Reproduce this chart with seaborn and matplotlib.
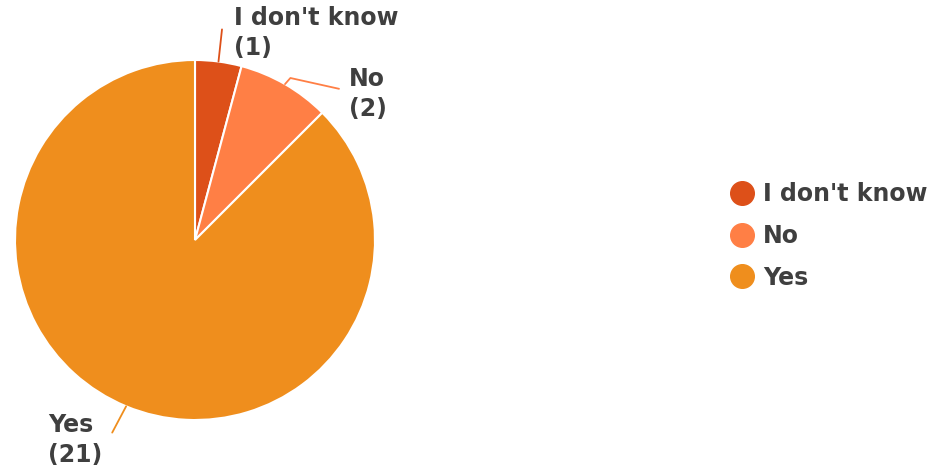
import numpy as np
import matplotlib
matplotlib.use("Agg")
import matplotlib.pyplot as plt
from matplotlib.lines import Line2D
import seaborn as sns

# survey answers
answers = ["I don't know", "No", "Yes"]
counts = [1, 2, 21]
colors = ["#DD5019", "#FF7F45", "#EF8E1D"]

sns.set_theme(style="white")
plt.rcParams["font.family"] = ["DejaVu Sans"]
TXT = "#3f3f3f"
FS = 17

fig = plt.figure(figsize=(9.4, 4.69), dpi=100)
ax = fig.add_axes([15 / 940, 49 / 469, 360 / 940, 360 / 469])

wedges, _ = ax.pie(
    counts, colors=colors, startangle=90, counterclock=False,
    wedgeprops=dict(edgecolor="white", linewidth=1.5),
)
ax.set_xlim(-1, 1)
ax.set_ylim(-1, 1)
ax.set_aspect("equal")

# label placement: (line points, text anchor, ha) in axis units, per slice
label_pos = {
    "I don't know": ([(0.15, 1.17)], (0.215, 1.15), "left"),
    "No": ([(0.53, 0.90), (0.80, 0.84)], (0.855, 0.81), "left"),
    "Yes": ([(-0.46, -1.07)], (-0.515, -1.11), "right"),
}
for w, name, n, c in zip(wedges, answers, counts, colors):
    ang = np.deg2rad((w.theta1 + w.theta2) / 2)
    pts = [(np.cos(ang), np.sin(ang))] + label_pos[name][0]
    (tx, ty), ha = label_pos[name][1], label_pos[name][2]
    xs, ys = zip(*pts)
    ax.plot(xs, ys, color=c, lw=1.3, clip_on=False)
    ax.text(tx, ty, f"{name}\n({n})", ha=ha, va="center", multialignment="left",
            fontsize=FS, fontweight="bold", color=TXT, linespacing=1.3,
            clip_on=False)

handles = [Line2D([0], [0], marker="o", linestyle="", markersize=17,
                  markerfacecolor=c, markeredgecolor=c) for c in colors]
leg = fig.legend(handles, answers, loc="center left",
                 bbox_to_anchor=(716 / 940, 1 - 236 / 469), frameon=False,
                 prop=dict(size=FS, weight="bold"), labelspacing=0.75,
                 handletextpad=0.3, handlelength=1.2, borderpad=0)
for t in leg.get_texts():
    t.set_color(TXT)

fig.savefig("out.png", dpi=100)
